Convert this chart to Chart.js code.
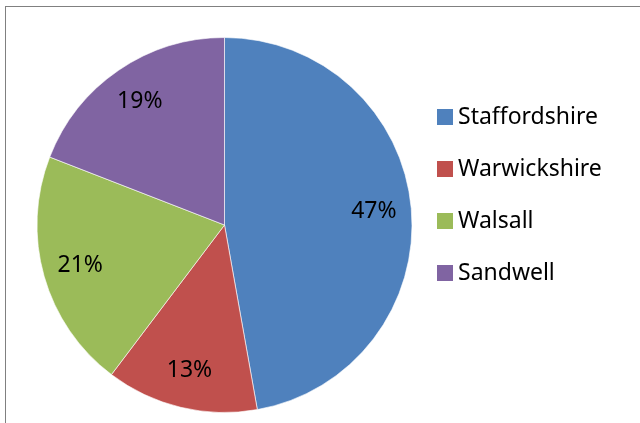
<!DOCTYPE html>
<html>
<head>
<meta charset="utf-8">
<script src="https://cdn.jsdelivr.net/npm/chart.js@4"></script>
<style>
    html, body { margin: 0; padding: 0; background: #fff; }
    #wrap { position: relative; width: 640px; height: 423px; overflow: hidden; }
    #frame {
        position: absolute; left: 5px; top: 6px; width: 700px; height: 500px;
        border-left: 1px solid #808080; border-top: 1px solid #808080;
    }
    canvas { position: absolute; left: 0; top: 0; }
</style>
</head>
<body>
<div id="wrap">
    <div id="frame"></div>
    <canvas id="grafico" width="640" height="423"></canvas>
</div>
<script>
// Dados do gráfico
const regioes = ['Staffordshire', 'Warwickshire', 'Walsall', 'Sandwell'];
const valores = [47.2, 13.1, 20.6, 19.1];
const cores = ['#4F81BD', '#C0504D', '#9BBB59', '#8064A2'];

const fonte = '"Noto Sans", "Open Sans", sans-serif';

// Plugin para os rótulos de percentagem dentro das fatias
const rotulosPlugin = {
    id: 'rotulos',
    afterDatasetsDraw(chart) {
        const ctx = chart.ctx;
        const meta = chart.getDatasetMeta(0);
        const total = valores.reduce((a, b) => a + b, 0);
        ctx.save();
        ctx.font = '23px ' + fonte;
        ctx.fillStyle = '#000';
        ctx.textAlign = 'center';
        ctx.textBaseline = 'middle';
        meta.data.forEach((arc, i) => {
            const p = arc.getProps(['x', 'y', 'startAngle', 'endAngle', 'outerRadius'], true);
            const meio = (p.startAngle + p.endAngle) / 2;
            const r = p.outerRadius * 0.8;
            const texto = Math.round(valores[i] / total * 100) + '%';
            ctx.fillText(texto, p.x + Math.cos(meio) * r, p.y + Math.sin(meio) * r);
        });
        ctx.restore();
    }
};

// Plugin para a legenda à direita
const legendaPlugin = {
    id: 'legenda',
    afterDraw(chart) {
        const ctx = chart.ctx;
        ctx.save();
        ctx.font = '23px ' + fonte;
        ctx.textBaseline = 'middle';
        regioes.forEach((nome, i) => {
            const y = 117 + i * 52;
            ctx.fillStyle = cores[i];
            ctx.fillRect(437, y - 8, 16, 16);
            ctx.fillStyle = '#000';
            ctx.fillText(nome, 458, y);
        });
        ctx.restore();
    }
};

const ctx = document.getElementById('grafico').getContext('2d');
new Chart(ctx, {
    type: 'pie',
    data: {
        labels: regioes,
        datasets: [{
            data: valores,
            backgroundColor: cores,
            borderColor: 'rgba(255, 255, 255, 0.6)',
            borderWidth: 1
        }]
    },
    options: {
        responsive: false,
        animation: false,
        layout: {
            padding: { left: 36, right: 227, top: 37, bottom: 10 }
        },
        plugins: {
            legend: { display: false },
            tooltip: { enabled: false }
        }
    },
    plugins: [rotulosPlugin, legendaPlugin]
});
</script>
</body>
</html>
